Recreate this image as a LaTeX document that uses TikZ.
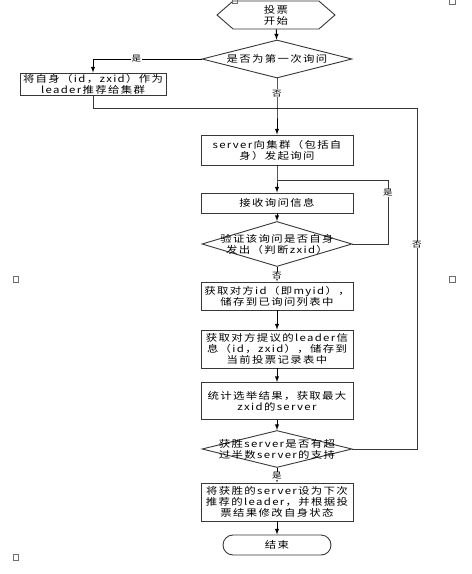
\documentclass[tikz,border=0pt]{standalone}
\usepackage{fontspec}
\setmainfont{Noto Sans CJK SC}[FakeStretch=1.2,LetterSpace=14]
\usetikzlibrary{shapes.geometric, shapes.symbols, arrows, positioning}
\definecolor{framegray}{RGB}{55,55,55}
\definecolor{handlegray}{RGB}{110,110,110}

\begin{document}
\begin{tikzpicture}[x=1pt, y=-1pt, >=latex,
  every node/.style={font=\fontsize{9.5}{11}\selectfont},
  process/.style={draw=framegray, line width=0.9pt, rectangle, minimum width=152, align=center, inner sep=1pt},
  decision/.style={draw=framegray, line width=0.9pt, diamond, minimum width=150, inner sep=0pt},
  flow/.style={->, line width=1pt},
  back/.style={draw=framegray, line width=0.6pt},
  tag/.style={fill=white, inner sep=0.3pt, font=\fontsize{8}{9}\selectfont},
  handle/.style={draw=handlegray, line width=0.5pt}]

\useasboundingbox (0,0) rectangle (472,574);

% start of the vote
\node[signal, signal to=east and west, signal pointer angle=82, draw=framegray, line width=0.9pt,
  minimum width=118, minimum height=28, inner sep=0pt, align=center] (start) at (276,15) {投票\\开始};

% first question
\node[decision, minimum height=38] (firstq) at (277,59) {};
\node (firstqtxt) at (firstq) {是否为第一次询问};
\node[process, minimum width=146, minimum height=22] (self) at (93,84) {将自身（id，zxid）作为\\leader推荐给集群};

% asking round
\node[process, minimum height=30] (ask) at (277,150) {server向集群（包括自\\身）发起询问};
\node[process, minimum height=20] (recv) at (277,203) {接收询问信息};
\node[decision, minimum height=45] (ownq) at (277,244) {};
\node[align=center] (ownqtxt) at (ownq) {验证该询问是否自身\\发出（判断zxid）};
\node[process, minimum height=28] (store) at (277,296) {获取对方id（即myid），\\储存到已询问列表中};
\node[process, minimum height=38] (vote) at (277,349) {获取对方提议的leader信\\息（id，zxid），储存到\\当前投票记录表中};
\node[process, minimum height=37] (count) at (277,401) {统计选举结果，获取最大\\zxid的server};

% majority check
\node[decision, minimum height=37] (halfq) at (277,449) {};
\node[align=center] (halfqtxt) at (halfq) {获胜server是否有超\\过半数server的支持};
\node[process, minimum height=38] (leader) at (277,502) {将获胜的server设为下次\\推荐的leader，并根据投\\票结果修改自身状态};
\node[draw=framegray, line width=0.9pt, rounded corners=10pt, minimum width=108, minimum height=20] (stop) at (277,545) {结束};

% join points
\coordinate (join) at (277,108);
\coordinate (rjoin) at (417,108);
\coordinate (loopin) at (277,180);
\coordinate (loopr) at (388,180);

% connectors
\draw[flow] (start) -- (firstq);
\draw[flow] (firstq.west) -- node[tag, pos=0.6]{是} (self.north |- firstq.west) -- (self.north);
\draw[back] (self.south) |- (rjoin);
\draw[flow] (firstq.south) -- node[tag]{否} (join) -- (ask.north);
\draw[flow] (ask.south) -- (loopin) -- (recv.north);
\draw[flow] (recv) -- (ownq);
\draw[back] (ownq.east) -| node[tag, pos=0.9]{是} (loopr) -- (loopin);
\draw[flow] (ownq) -- node[tag, pos=0.6]{否} (store);
\draw[flow] (store) -- (vote);
\draw[flow] (vote) -- (count);
\draw[flow] (count) -- (halfq);
\draw[back] (halfq.east) -| node[tag, pos=0.8]{否} (rjoin);
\draw[flow] (halfq) -- node[tag, pos=0.55]{是} (leader);
\draw[flow] (leader) -- (stop);

% selection handles
\draw[handle] (232,-2) rectangle (237,3);
\draw[handle] (449,-2) rectangle (455,4);
\draw[handle] (13,276) rectangle (18,282);
\draw[handle] (449,276) rectangle (455,282);
\draw[handle] (13,554) rectangle (18,560);
\end{tikzpicture}
\end{document}
